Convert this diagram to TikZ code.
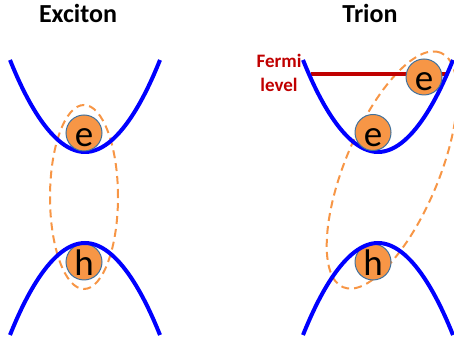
\documentclass[tikz,border=0pt]{standalone}
\usepackage{fontspec}
\setmainfont{Carlito}
\definecolor{bandblue}{HTML}{0000FF}
\definecolor{fermired}{HTML}{C00000}
\definecolor{carrierfill}{HTML}{F79646}
\definecolor{carrieredge}{HTML}{41719C}
\begin{document}
\begin{tikzpicture}[x=1pt,y=1pt,
  band/.style={draw=bandblue,line width=4pt},
  pairline/.style={draw=carrierfill,line width=2pt,dash pattern=on 8pt off 5pt},
  carrier/.style={circle,fill=carrierfill,draw=carrieredge,line width=1pt,minimum size=36pt,inner sep=0pt,
    font=\fontsize{37}{37}\selectfont,text height=28pt,text depth=0pt},
  heading/.style={anchor=base,font=\fontsize{26}{30}\selectfont\bfseries},
  fermiline/.style={draw=fermired,line width=3.5pt}]
\useasboundingbox (0,0) rectangle (454,344);
% titles
\node[heading] (exciton) at (78,321) {Exciton};
\node[heading] (trion) at (370,321) {Trion};
% bound pairs
\draw[pairline] (84,147) ellipse [x radius=34,y radius=92];
\draw[pairline,rotate around={67.4:(392,174)}] (392,174) ellipse [x radius=127,y radius=47];
% Fermi level
\node[align=center,text=fermired,font=\fontsize{19}{23.5}\selectfont\bfseries] (fermi) at (279,271) {Fermi\\level};
\coordinate (fermiL) at (311,270);
\coordinate (fermiR) at (446,270);
\draw[fermiline] (fermiL) -- (fermiR);
% conduction bands
\draw[band] (10,284) parabola bend (85,192) (160,284);
\draw[band] (303,284) parabola bend (378,192) (453,284);
\node[carrier] (e1) at (84,211) {e};
\node[carrier] (e2) at (373,211.5) {e};
\node[carrier] (e3) at (424,267) {e};
% valence bands
\node[carrier] (h1) at (84,82) {h};
\node[carrier] (h2) at (373,82) {h};
\draw[band] (10,9) parabola bend (85,101) (160,9);
\draw[band] (303,9) parabola bend (378,101) (453,9);
\end{tikzpicture}
\end{document}
